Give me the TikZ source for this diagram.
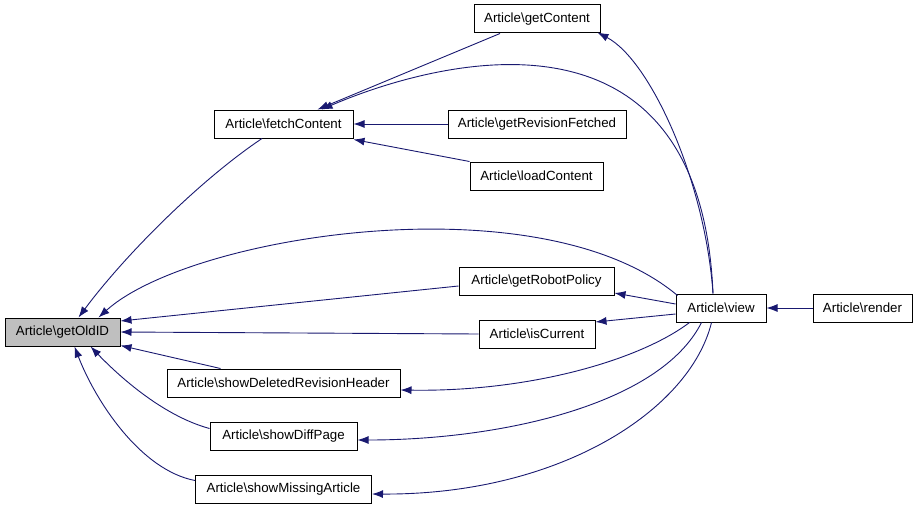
\documentclass[tikz,border=0pt]{standalone}
\usepackage{fontspec}
\setmainfont{Liberation Sans}
\usetikzlibrary{arrows.meta,calc}
\definecolor{edgec}{HTML}{191970}
\begin{document}
\begin{tikzpicture}[x=1pt,y=-1pt,
  fn/.style={draw=black,line width=1pt,fill=white,minimum height=28pt,inner sep=0pt,font=\fontsize{13.3}{15}\selectfont},
  cur/.style={fn,fill=black!25},
  ed/.style={draw=edgec,line width=0.9pt,{Latex[length=11pt,width=8pt]}-}]
\useasboundingbox (0,0) rectangle (917,511);
\node[cur,minimum width=115pt] (oldid) at (62.5,332) {Article\textbackslash getOldID};
\node[fn,minimum width=139pt] (fetch) at (283.5,124) {Article\textbackslash fetchContent};
\node[fn,minimum width=126pt] (getc) at (537,19) {Article\textbackslash getContent};
\node[fn,minimum width=178pt] (grf) at (537,124) {Article\textbackslash getRevisionFetched};
\node[fn,minimum width=133pt] (load) at (536.5,176) {Article\textbackslash loadContent};
\node[fn,minimum width=155pt] (robot) at (536.5,281) {Article\textbackslash getRobotPolicy};
\node[fn,minimum width=116pt] (iscur) at (537,334) {Article\textbackslash isCurrent};
\node[fn,minimum width=90pt] (view) at (721,308) {Article\textbackslash view};
\node[fn,minimum width=99pt] (render) at (862.5,308) {Article\textbackslash render};
\node[fn,minimum width=233pt] (sdrh) at (283.5,383) {Article\textbackslash showDeletedRevisionHeader};
\node[fn,minimum width=147pt] (sdp) at (283.5,436) {Article\textbackslash showDiffPage};
\node[fn,minimum width=176pt] (sma) at (283.5,489) {Article\textbackslash showMissingArticle};
% edges into getOldID
\draw[ed] ($(oldid.north)+(16,0)$) .. controls (125,255) and (200,180) .. ($(fetch.south)+(-21.5,0)$);
\draw[ed] ($(oldid.north)+(36,0)$) .. controls (190,235) and (540,180) .. ($(view.north west)+(2,2)$);
\draw[ed] ($(oldid.east)+(0,-11)$) -- ($(robot.west)+(0,5)$);
\draw[ed] (oldid.east) -- (iscur.west);
\draw[ed] ($(oldid.south east)+(0,-1)$) -- ($(sdrh.north)+(-63,0)$);
\draw[ed] ($(oldid.south)+(28,0)$) .. controls (115,372) and (160,415) .. ($(sdp.north west)+(0,7)$);
\draw[ed] ($(oldid.south)+(12,0)$) .. controls (95,400) and (140,470) .. ($(sma.north west)+(0,6)$);
% edges into fetchContent
\draw[ed] ($(fetch.north)+(34,0)$) -- ($(getc.south)+(-37,0)$);
\draw[ed] ($(fetch.north)+(38,0)$) .. controls (420,67) and (700,-20) .. ($(view.north)+(-8,0)$);
\draw[ed] (fetch.east) -- (grf.west);
\draw[ed] ($(fetch.south east)+(0,1)$) -- ($(load.north west)+(0,0)$);
% edges from view
\draw[ed] ($(getc.south east)+(-3,-1)$) .. controls (650,60) and (705,180) .. ($(view.north)+(-8,0)$);
\draw[ed] ($(robot.east)+(0,12)$) -- ($(view.west)+(0,-4)$);
\draw[ed] ($(iscur.east)+(0,-12)$) -- ($(view.west)+(0,6)$);
\draw[ed] ($(sdrh.east)+(0,7)$) .. controls (530,392) and (640,360) .. ($(view.south west)+(14,0)$);
\draw[ed] ($(sdp.east)+(0,4)$) .. controls (500,440) and (660,405) .. ($(view.south west)+(26,0)$);
\draw[ed] ($(sma.east)+(0,5)$) .. controls (560,495) and (690,410) .. ($(view.south west)+(36,0)$);
\draw[ed] (view.east) -- (render.west);
\end{tikzpicture}
\end{document}
